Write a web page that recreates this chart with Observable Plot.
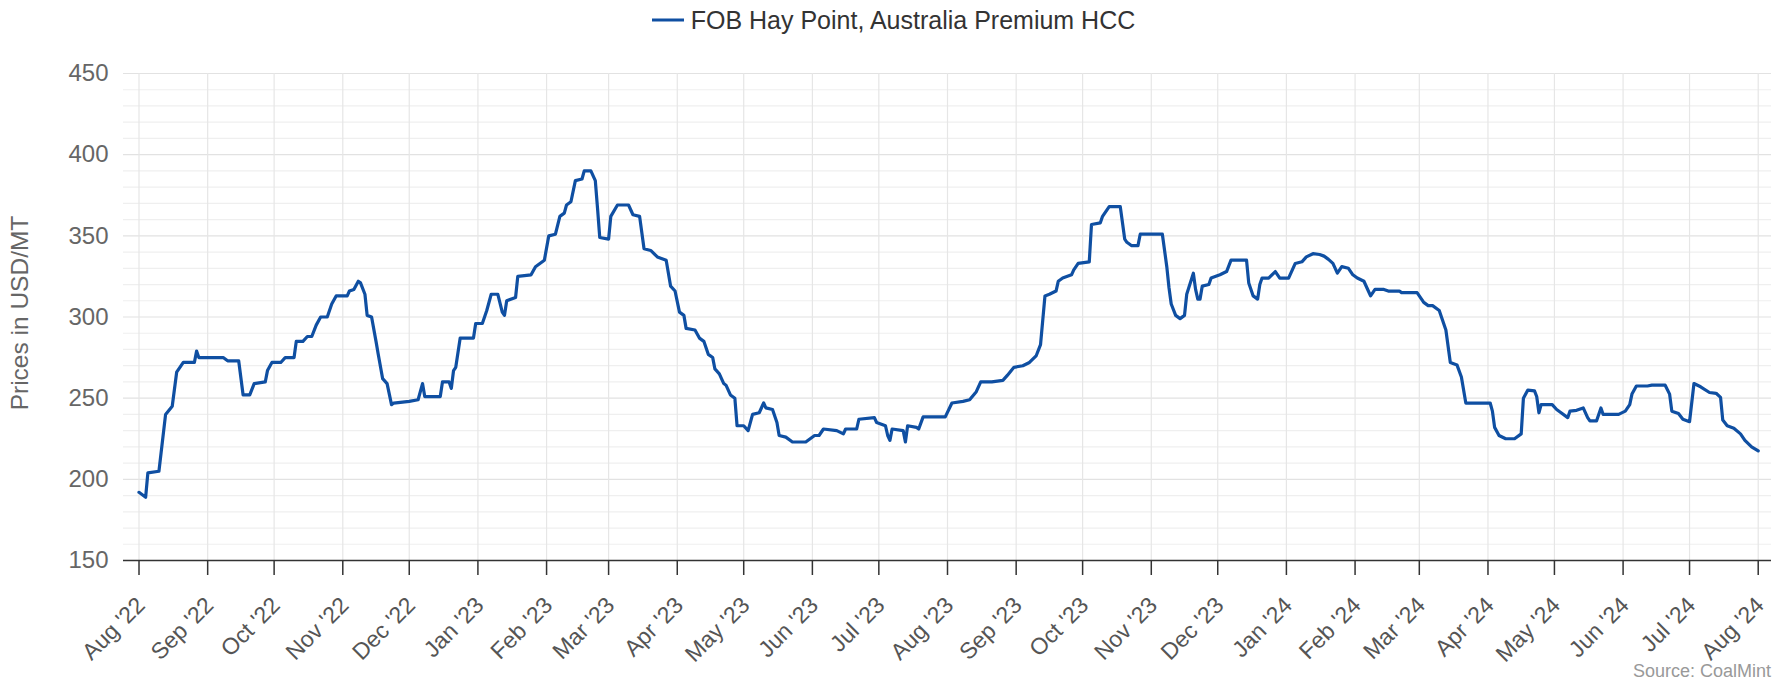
<!DOCTYPE html>
<html>
<head>
<meta charset="utf-8">
<script src="https://cdn.jsdelivr.net/npm/d3@7"></script>
<script src="https://cdn.jsdelivr.net/npm/@observablehq/plot@0.6"></script>
<style>
  html, body { margin: 0; padding: 0; background: #fff; }
  body { width: 1787px; height: 681px; position: relative; overflow: hidden;
         font-family: "Liberation Sans", Arial, Helvetica, sans-serif; }
  #legend { height: 40px; display: flex; justify-content: center; align-items: center; color: #333; font-size: 25px; }
  #legend svg { margin-right: 7px; }
  #ytitle { position: absolute; left: 20px; top: 313px; transform: translate(-50%, -50%) rotate(-90deg);
            white-space: nowrap; color: #666; font-size: 24.5px; }
  #source { position: absolute; right: 16px; top: 661px; color: #999; font-size: 18px; }
</style>
</head>
<body>
<div id="legend"><svg width="32" height="8"><line x1="0" x2="32" y1="4" y2="4" stroke="#0f4fa2" stroke-width="3"/></svg><span>FOB Hay Point, Australia Premium HCC</span></div>
<div id="chart"></div>
<div id="ytitle">Prices in USD/MT</div>
<div id="source">Source: CoalMint</div>
<script>
const seriesName = "FOB Hay Point, Australia Premium HCC";
const dates = [
"2022-08-01","2022-08-04","2022-08-05","2022-08-10","2022-08-13","2022-08-16","2022-08-18","2022-08-21","2022-08-26","2022-08-27",
"2022-08-28","2022-09-08","2022-09-10","2022-09-15","2022-09-17","2022-09-20","2022-09-22","2022-09-27","2022-09-28","2022-09-30",
"2022-10-04","2022-10-06","2022-10-10","2022-10-11","2022-10-14","2022-10-16","2022-10-18","2022-10-20","2022-10-22","2022-10-25",
"2022-10-27","2022-10-29","2022-11-03","2022-11-04","2022-11-06","2022-11-08","2022-11-09","2022-11-11","2022-11-12","2022-11-14",
"2022-11-16","2022-11-17","2022-11-19","2022-11-21","2022-11-23","2022-11-24","2022-12-01","2022-12-05","2022-12-07","2022-12-08",
"2022-12-15","2022-12-16","2022-12-19","2022-12-20","2022-12-21","2022-12-22","2022-12-24","2022-12-30","2022-12-31","2023-01-03",
"2023-01-05","2023-01-07","2023-01-10","2023-01-12","2023-01-13","2023-01-14","2023-01-18","2023-01-19","2023-01-25","2023-01-27",
"2023-01-31","2023-02-02","2023-02-05","2023-02-07","2023-02-09","2023-02-10","2023-02-12","2023-02-14","2023-02-17","2023-02-18",
"2023-02-21","2023-02-23","2023-02-24","2023-02-25","2023-03-01","2023-03-02","2023-03-05","2023-03-10","2023-03-12","2023-03-15",
"2023-03-17","2023-03-20","2023-03-23","2023-03-27","2023-03-29","2023-03-31","2023-04-02","2023-04-04","2023-04-05","2023-04-09",
"2023-04-11","2023-04-13","2023-04-15","2023-04-17","2023-04-18","2023-04-20","2023-04-22","2023-04-23","2023-04-25","2023-04-27",
"2023-04-28","2023-05-01","2023-05-03","2023-05-05","2023-05-08","2023-05-10","2023-05-11","2023-05-14","2023-05-16","2023-05-17",
"2023-05-20","2023-05-23","2023-05-29","2023-05-31","2023-06-02","2023-06-04","2023-06-06","2023-06-12","2023-06-15","2023-06-16",
"2023-06-21","2023-06-22","2023-06-29","2023-06-30","2023-07-04","2023-07-05","2023-07-06","2023-07-07","2023-07-12","2023-07-13",
"2023-07-14","2023-07-18","2023-07-19","2023-07-21","2023-07-31","2023-08-03","2023-08-08","2023-08-11","2023-08-14","2023-08-16",
"2023-08-21","2023-08-26","2023-08-28","2023-08-31","2023-09-04","2023-09-07","2023-09-10","2023-09-12","2023-09-14","2023-09-16",
"2023-09-19","2023-09-20","2023-09-22","2023-09-26","2023-09-27","2023-09-29","2023-10-04","2023-10-05","2023-10-09","2023-10-10",
"2023-10-13","2023-10-18","2023-10-20","2023-10-21","2023-10-23","2023-10-26","2023-10-27","2023-11-06","2023-11-08","2023-11-09",
"2023-11-10","2023-11-12","2023-11-14","2023-11-16","2023-11-17","2023-11-20","2023-11-21","2023-11-22","2023-11-23","2023-11-24",
"2023-11-27","2023-11-28","2023-12-02","2023-12-05","2023-12-07","2023-12-14","2023-12-15","2023-12-17","2023-12-19","2023-12-20",
"2023-12-21","2023-12-24","2023-12-27","2023-12-29","2024-01-02","2024-01-05","2024-01-08","2024-01-10","2024-01-13","2024-01-16",
"2024-01-18","2024-01-20","2024-01-22","2024-01-24","2024-01-26","2024-01-29","2024-01-31","2024-02-02","2024-02-05","2024-02-07",
"2024-02-08","2024-02-10","2024-02-14","2024-02-16","2024-02-21","2024-02-22","2024-02-29","2024-03-03","2024-03-05","2024-03-07",
"2024-03-10","2024-03-11","2024-03-13","2024-03-15","2024-03-18","2024-03-20","2024-03-22","2024-04-02","2024-04-03","2024-04-04",
"2024-04-06","2024-04-09","2024-04-13","2024-04-16","2024-04-17","2024-04-19","2024-04-22","2024-04-23","2024-04-24","2024-04-25",
"2024-04-30","2024-05-02","2024-05-04","2024-05-07","2024-05-08","2024-05-11","2024-05-14","2024-05-16","2024-05-17","2024-05-20",
"2024-05-22","2024-05-23","2024-05-30","2024-06-02","2024-06-04","2024-06-05","2024-06-07","2024-06-12","2024-06-14","2024-06-20",
"2024-06-22","2024-06-23","2024-06-26","2024-06-28","2024-07-01","2024-07-03","2024-07-06","2024-07-10","2024-07-13","2024-07-15",
"2024-07-16","2024-07-18","2024-07-21","2024-07-24","2024-07-26","2024-07-29","2024-08-01"
];
const prices = [
192,189,204,205,240,245,266,272,272,279,
275,275,273,273,252,252,259,260,267,272,
272,275,275,285,285,288,288,295,300,300,
308,313,313,316,317,322,321,314,301,300,
285,277,262,259,246,247,248,249,259,251,
251,260,260,256,267,269,287,287,296,296,
304,314,314,303,301,310,312,325,326,331,
335,350,351,362,364,369,371,384,385,390,
390,384,367,349,348,362,369,369,363,362,
342,341,337,335,319,316,303,301,293,292,
287,285,277,275,268,265,259,258,252,250,
233,233,230,240,241,247,244,243,235,227,
226,223,223,225,227,227,231,230,228,231,
231,237,238,235,233,227,224,231,230,223,
233,232,231,238.5,238.5,247,248,249,254,260,
260,261,264,269,270,272,276,283,313,314,
316,322,324,326,329,333,334,357,358,362,
368,368,348,346,344,344,351,351,331,318,
308,301,299,301,314,327,317,311,311,319,
320,324,326,328,335,335,321,313,311,320,
324,324,328,324,324,333,334,337,339,338.5,
337.5,335.5,333,327,331,330,326,324,322,316,
313,317,317,316,316,315,315,309,307,307,
304,300,292,272,270.5,263,247,247,242,232,
227,225,225,228,250,255,254.5,251,241,246,
246,243,241,238,242,242.5,244,238,236,236,
244,240,240,242,246,252.5,257.5,257.5,258,258,
252.5,242,240.5,237,235.5,259,257,253.5,253,250.5,
236.5,233,231.5,228,224,220,217.5
];
const yMajor = [150, 200, 250, 300, 350, 400, 450];
const yMinor = d3.range(160, 450, 10).filter(v => v % 50 !== 0);
const monthTicks = d3.utcMonth.range(new Date("2022-08-01"), new Date("2024-08-02"));
const xDomain = [new Date("2022-07-25"), new Date("2024-08-07")];

const data = dates.map((d, i) => ({date: new Date(d), price: prices[i], series: seriesName}));

const chart = Plot.plot({
  width: 1787,
  height: 641,
  marginTop: 33,
  marginRight: 16,
  marginBottom: 121,
  marginLeft: 123,
  style: {fontFamily: '"Liberation Sans", Arial, Helvetica, sans-serif', fontSize: "24px", color: "#666", background: "#fff"},
  x: {type: "utc", domain: xDomain},
  y: {domain: [150, 450]},
  marks: [
    Plot.ruleY(yMinor, {stroke: "#efefef", strokeWidth: 1.2}),
    Plot.ruleY(yMajor, {stroke: "#e2e2e2", strokeWidth: 1.2}),
    Plot.ruleX(monthTicks, {stroke: "#e6e6e6", strokeWidth: 1.2}),
    Plot.line(data, {x: "date", y: "price", stroke: "#0f4fa2", strokeWidth: 3.2, strokeLinejoin: "round", strokeLinecap: "round"}),
    Plot.ruleY([150], {stroke: "#333", strokeWidth: 1.5}),
    Plot.axisX({ticks: monthTicks, tickSize: 15, tickFormat: () => "", stroke: "#333", strokeWidth: 1.5, label: null}),
    Plot.axisX({ticks: monthTicks, tickFormat: d3.utcFormat("%b '%y"), tickSize: 0, tickPadding: 41, tickRotate: -45, dx: 2,
                fontSize: 23, fill: "#555", label: null}),
    Plot.axisY({ticks: yMajor, tickSize: 0, tickPadding: 15, fill: "#666", label: null})
  ]
});
document.getElementById("chart").appendChild(chart);
</script>
</body>
</html>
